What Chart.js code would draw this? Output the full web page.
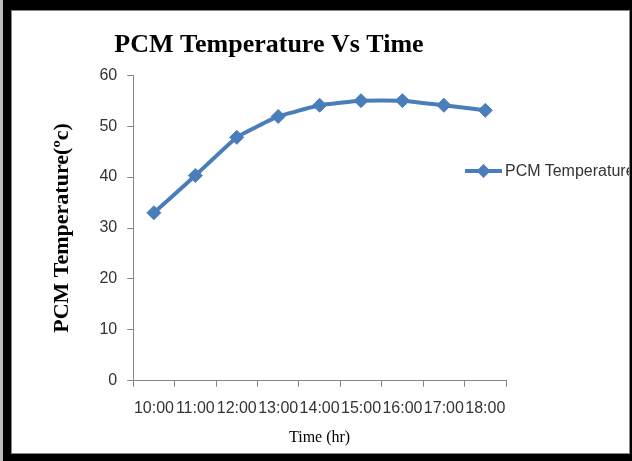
<!DOCTYPE html>
<html lang="en">
<head>
  <meta charset="UTF-8" />
  <title>PCM Temperature Vs Time</title>
  <script src="https://cdn.jsdelivr.net/npm/chart.js"></script>
  <style>
    body {
      margin: 0;
      background: #000;
      width: 632px;
      height: 461px;
      position: relative;
      overflow: hidden;
    }
    .edge {
      position: absolute;
      left: 0; top: 0;
      width: 3px; height: 461px;
      background: #bdbdbd;
    }
    .panel {
      position: absolute;
      left: 11px; top: 10px;
      width: 617px; height: 442px;
      background: #fff;
      border: 1px solid #8a8a8a;
      overflow: hidden;
    }
    .legend {
      position: absolute;
      left: 453px; top: 151px;
      display: flex;
      align-items: center;
      font-family: 'Liberation Sans', Arial, sans-serif;
      font-size: 16px;
      color: #333;
      white-space: nowrap;
    }
    .legend svg { margin-right: 2px; }
  </style>
</head>
<body>
  <div class="edge"></div>
  <div class="panel">
    <canvas id="pcmChart" width="617" height="442"></canvas>
    <div class="legend" id="legend"></div>
  </div>

  <script>
    // values
    const times = ['10:00', '11:00', '12:00', '13:00', '14:00', '15:00', '16:00', '17:00', '18:00'];
    const pcmTemp = [33.0, 40.3, 47.8, 51.9, 54.1, 55.0, 55.0, 54.1, 53.1];
    const yMin = 0, yMax = 60, yStep = 10;

    const blue = '#4a7ebb';
    const axisGrey = '#868686';

    const chart = new Chart(document.getElementById('pcmChart').getContext('2d'), {
      type: 'line',
      data: {
        labels: times,
        datasets: [{
          label: 'PCM Temperature',
          data: pcmTemp,
          borderColor: blue,
          backgroundColor: blue,
          borderWidth: 4,
          pointStyle: 'rectRot',
          pointRadius: 7,
          pointBorderWidth: 1,
          tension: 0.1,
          fill: false
        }]
      },
      options: {
        responsive: false,
        animation: false,
        layout: { padding: { left: 20, right: 123, top: 0, bottom: 3 } },
        plugins: {
          legend: { display: false },
          tooltip: { enabled: false },
          title: {
            display: true,
            text: 'PCM Temperature Vs Time',
            color: '#000',
            font: { family: "'Liberation Serif', 'Times New Roman', serif", size: 26, weight: 'bold' },
            padding: { top: 19, bottom: 14 }
          }
        },
        scales: {
          x: {
            offset: true,
            grid: { offset: true, drawOnChartArea: false, tickLength: 6, color: axisGrey },
            border: { color: axisGrey },
            ticks: {
              autoSkip: false,
              maxRotation: 0,
              padding: 12,
              color: '#333',
              font: { family: "'Liberation Sans', Arial, sans-serif", size: 16 }
            },
            title: {
              display: true,
              text: 'Time (hr)',
              color: '#000',
              font: { family: "'Liberation Serif', 'Times New Roman', serif", size: 16, lineHeight: 1 },
              padding: { top: 0, bottom: 4 }
            }
          },
          y: {
            min: yMin,
            max: yMax,
            grid: { drawOnChartArea: false, tickLength: 6, color: axisGrey },
            border: { color: axisGrey },
            ticks: {
              stepSize: yStep,
              padding: 10,
              color: '#333',
              font: { family: "'Liberation Sans', Arial, sans-serif", size: 16 }
            },
            title: {
              display: true,
              text: 'PCM Temperature(ºc)',
              color: '#000',
              font: { family: "'Liberation Serif', 'Times New Roman', serif", size: 22, weight: 'bold' },
              padding: { top: 17, bottom: 14 }
            }
          }
        }
      }
    });

    // legend built from the dataset (line with diamond marker)
    const ds = chart.data.datasets[0];
    document.getElementById('legend').innerHTML =
      '<svg width="38" height="16"><line x1="0" y1="8" x2="37" y2="8" stroke="' + ds.borderColor +
      '" stroke-width="4"/><polygon points="18.5,1 25.5,8 18.5,15 11.5,8" fill="' + ds.borderColor +
      '"/></svg><span>' + ds.label + '</span>';
  </script>
</body>
</html>
